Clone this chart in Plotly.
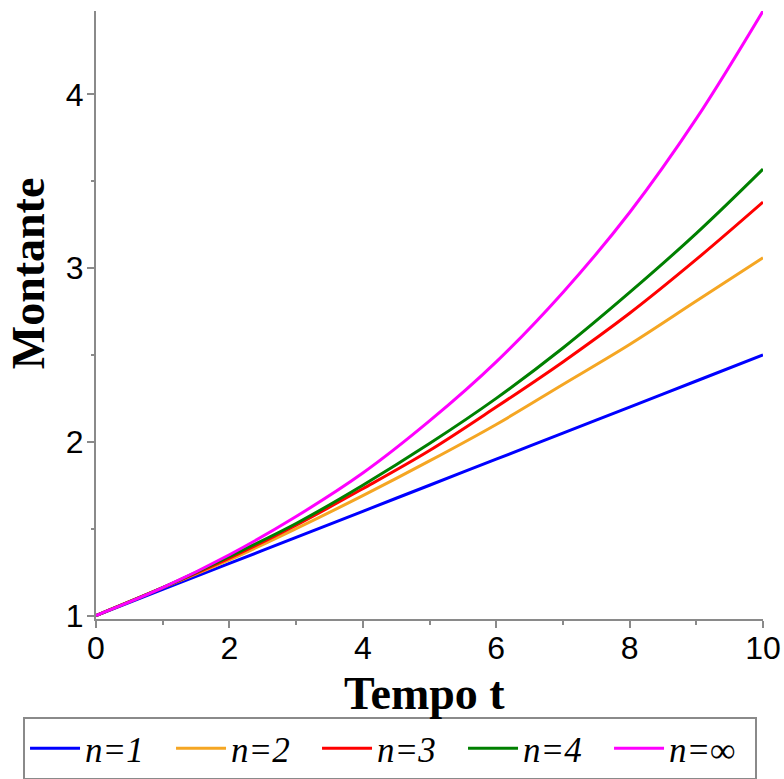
import plotly.graph_objects as go

# Time axis (years)
tempo = [0, 1, 2, 3, 4, 5, 6, 7, 8, 9, 10]

# Accumulated amount for each compounding count n
montante_n1 = [1.00, 1.15, 1.30, 1.45, 1.60, 1.75, 1.90, 2.05, 2.20, 2.35, 2.50]
montante_n2 = [1.00, 1.16, 1.32, 1.50, 1.69, 1.89, 2.10, 2.33, 2.56, 2.81, 3.06]
montante_n3 = [1.00, 1.16, 1.33, 1.52, 1.73, 1.95, 2.20, 2.46, 2.74, 3.05, 3.38]
montante_n4 = [1.00, 1.16, 1.34, 1.53, 1.75, 1.99, 2.25, 2.54, 2.86, 3.20, 3.57]
montante_inf = [1.00, 1.16, 1.35, 1.57, 1.82, 2.12, 2.46, 2.86, 3.32, 3.86, 4.48]

series_names = ["n=1", "n=2", "n=3", "n=4", "n=∞"]
series_values = [montante_n1, montante_n2, montante_n3, montante_n4, montante_inf]
series_colors = ["#0000ff", "#f5a623", "#ff0000", "#008000", "#ff00ff"]

x_ticks = [0, 2, 4, 6, 8, 10]
y_ticks = [1, 2, 3, 4]

fig = go.Figure()
for name, vals, color in zip(series_names, series_values, series_colors):
    fig.add_trace(go.Scatter(
        x=tempo, y=vals, mode="lines", name=f"<i>{name}</i>",
        line=dict(color=color, width=3, shape="spline", smoothing=1.0),
    ))

axis_color = "#8a8a8a"
tick_font = dict(family="Liberation Sans", size=32, color="black")

fig.update_layout(
    width=784, height=779,
    paper_bgcolor="white", plot_bgcolor="white",
    margin=dict(l=96, r=21, t=11, b=160, autoexpand=False),
    showlegend=True,
    legend=dict(
        orientation="h", xanchor="left", yanchor="top",
        x=-0.1094, y=-0.161,
        bordercolor=axis_color, borderwidth=2,
        font=dict(family="Liberation Serif", size=35, color="black", style="italic"),
        itemwidth=50, entrywidth=81, entrywidthmode="pixels",
        traceorder="normal",
    ),
    xaxis=dict(
        range=[0, 10], tickvals=x_ticks, ticktext=[str(v) for v in x_ticks],
        showgrid=False, zeroline=False,
        showline=True, linecolor=axis_color, linewidth=2,
        ticks="outside", ticklen=7, tickwidth=2, tickcolor=axis_color,
        minor=dict(dtick=1, ticks="outside", ticklen=4, tickwidth=2, tickcolor=axis_color),
        tickfont=tick_font, ticklabelstandoff=-7,
    ),
    yaxis=dict(
        range=[0.98, 4.48], tickvals=y_ticks, ticktext=[str(v) for v in y_ticks],
        showgrid=False, zeroline=False,
        showline=True, linecolor=axis_color, linewidth=2,
        ticks="outside", ticklen=7, tickwidth=2, tickcolor=axis_color,
        minor=dict(dtick=0.5, ticks="outside", ticklen=3, tickwidth=2, tickcolor=axis_color),
        tickfont=tick_font, ticklabelstandoff=-3,
    ),
)

title_font = dict(family="Liberation Serif", size=46, color="black")
fig.add_annotation(
    text="<b>Tempo t</b>", xref="paper", yref="paper",
    x=0.493, y=-0.122, xanchor="center", yanchor="middle",
    showarrow=False, font=title_font,
)
fig.add_annotation(
    text="<b>Montante</b>", xref="paper", yref="paper", textangle=-90,
    x=-0.101, y=0.568, xanchor="center", yanchor="middle",
    showarrow=False, font=title_font,
)

fig.write_html("out.html")
